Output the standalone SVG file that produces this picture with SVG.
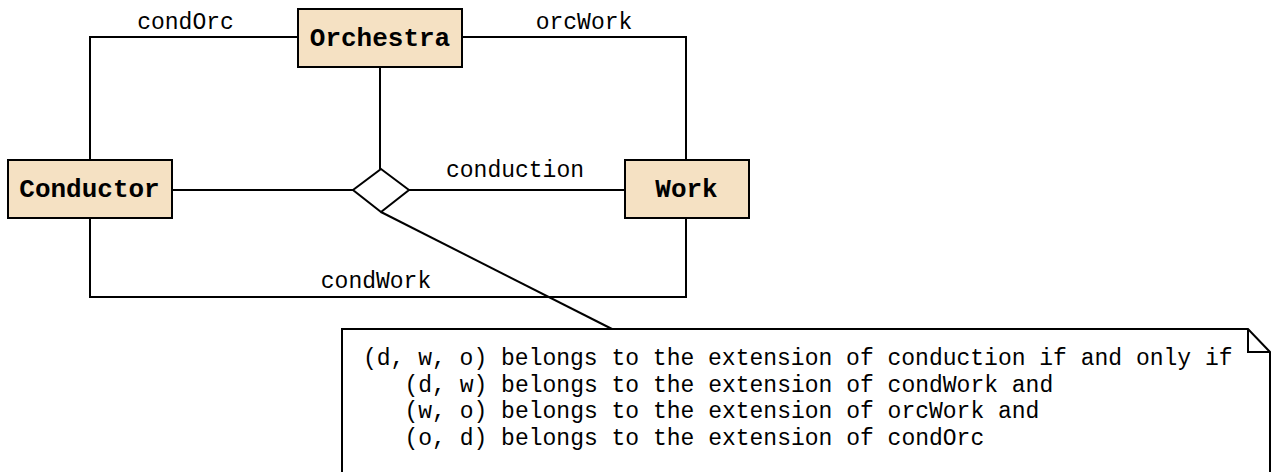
<svg xmlns="http://www.w3.org/2000/svg" width="1271" height="472" viewBox="0 0 1271 472">
<style>
.box{fill:#f5e1c3;stroke:#000;stroke-width:2}
.ln{fill:none;stroke:#000;stroke-width:2}
.lbl{font-family:"Liberation Mono","Courier New",monospace;font-size:23px;fill:#000;text-anchor:middle}
.ent{font-family:"Liberation Mono","Courier New",monospace;font-size:26px;font-weight:bold;fill:#000;text-anchor:middle}
.note{font-family:"Liberation Mono","Courier New",monospace;font-size:23px;fill:#000}
</style>
<rect width="1271" height="472" fill="#fff"/>
<g id="connectors">
<polyline class="ln" points="90,160 90,37 298,37"/>
<polyline class="ln" points="462,37 686,37 686,160"/>
<polyline class="ln" points="90,218 90,297 686,297 686,218"/>
<line class="ln" x1="380" y1="67" x2="380" y2="169"/>
<line class="ln" x1="172" y1="190" x2="353" y2="190"/>
<line class="ln" x1="409" y1="190" x2="625" y2="190"/>
<line class="ln" x1="381" y1="212" x2="612" y2="329"/>
<text class="lbl" x="185.5" y="29">condOrc</text>
<text class="lbl" x="584" y="29">orcWork</text>
<text class="lbl" x="515" y="177">conduction</text>
<text class="lbl" x="376" y="288">condWork</text>
</g>
<g id="orchestra">
<rect class="box" x="298" y="9" width="164" height="58"/>
<text class="ent" x="380" y="46">Orchestra</text>
</g>
<g id="conductor">
<rect class="box" x="8" y="160" width="164" height="58"/>
<text class="ent" x="89.5" y="197">Conductor</text>
</g>
<g id="work">
<rect class="box" x="625" y="160" width="124" height="58"/>
<text class="ent" x="686.5" y="197">Work</text>
</g>
<g id="conduction">
<polygon points="381,169 409,190 381,212 353,190" fill="#fff" stroke="#000" stroke-width="2"/>
</g>
<g id="note">
<path d="M342,480 L342,329 L1248,329 L1270,352 L1270,480" fill="#fff" stroke="#000" stroke-width="2"/>
<path d="M1248,329 L1248,352 L1270,352" fill="none" stroke="#000" stroke-width="2"/>
<text class="note" x="363" y="365">(d, w, o) belongs to the extension of conduction if and only if</text>
<text class="note" x="404.5" y="391.7">(d, w) belongs to the extension of condWork and</text>
<text class="note" x="404.5" y="418.3">(w, o) belongs to the extension of orcWork and</text>
<text class="note" x="404.5" y="445">(o, d) belongs to the extension of condOrc</text>
</g>
</svg>
